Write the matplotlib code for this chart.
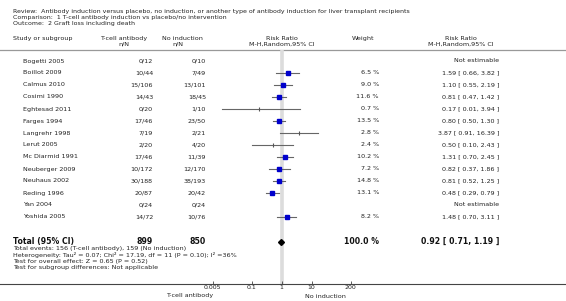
import matplotlib
matplotlib.use("Agg")
import matplotlib.pyplot as plt
import numpy as np

W, H = 566, 301
DPI = 100

title_lines = [
    "Review:  Antibody induction versus placebo, no induction, or another type of antibody induction for liver transplant recipients",
    "Comparison:  1 T-cell antibody induction vs placebo/no intervention",
    "Outcome:  2 Graft loss including death",
]
studies = ["Bogetti 2005", "Boillot 2009", "Calmus 2010", "Cosimi 1990", "Eghtesad 2011",
           "Farges 1994", "Langrehr 1998", "Lerut 2005", "Mc Diarmid 1991", "Neuberger 2009",
           "Neuhaus 2002", "Reding 1996", "Yan 2004", "Yoshida 2005"]
t_events = [0, 10, 15, 14, 0, 17, 7, 2, 17, 10, 30, 20, 0, 14]
t_total = [12, 44, 106, 43, 20, 46, 19, 20, 46, 172, 188, 87, 24, 72]
c_events = [0, 7, 13, 18, 1, 23, 2, 4, 11, 12, 38, 20, 0, 10]
c_total = [10, 49, 101, 45, 10, 50, 21, 20, 39, 170, 193, 42, 24, 76]
weights = [np.nan, 6.5, 9.0, 11.6, 0.7, 13.5, 2.8, 2.4, 10.2, 7.2, 14.8, 13.1, np.nan, 8.2]
rr = [np.nan, 1.59, 1.10, 0.81, 0.17, 0.80, 3.87, 0.50, 1.31, 0.82, 0.81, 0.48, np.nan, 1.48]
rr_lo = [np.nan, 0.66, 0.55, 0.47, 0.01, 0.50, 0.91, 0.10, 0.70, 0.37, 0.52, 0.29, np.nan, 0.70]
rr_hi = [np.nan, 3.82, 2.19, 1.42, 3.94, 1.30, 16.39, 2.43, 2.45, 1.86, 1.25, 0.79, np.nan, 3.11]

total_t, total_c = 899, 850
total_rr, total_lo, total_hi = 0.92, 0.71, 1.19
footnotes = [
    "Total events: 156 (T-cell antibody), 159 (No induction)",
    "Heterogeneity: Tau\u00b2 = 0.07; Chi\u00b2 = 17.19, df = 11 (P = 0.10); I\u00b2 =36%",
    "Test for overall effect: Z = 0.65 (P = 0.52)",
    "Test for subgroup differences: Not applicable",
]
xticks = [0.005, 0.1, 1, 10, 200]
xtick_labels = ["0.005", "0.1", "1", "10", "200"]
left_label = "T-cell antibody"
right_label = "No induction"

plt.rcParams['font.family'] = ['DejaVu Sans']
fig = plt.figure(figsize=(W / DPI, H / DPI), dpi=DPI)

# text layer in pixel coordinates
tx = fig.add_axes([0, 0, 1, 1])
tx.set_xlim(0, W)
tx.set_ylim(H, 0)
tx.axis("off")

# forest axes (log scale, 30 px per decade, RR=1 at x=281.7 px)
ax_top, ax_bot = 50.0, 283.7
x_one = 281.7
ppd = 30.0
fx = fig.add_axes([0, (H - ax_bot) / H, 1, (ax_bot - ax_top) / H], zorder=0)
fx.set_xscale("log")
fx.set_xlim(10 ** (-x_one / ppd), 10 ** ((W - x_one) / ppd))
fx.set_ylim(ax_bot, ax_top)
fx.patch.set_alpha(0)
for s in ["top", "left", "right"]:
    fx.spines[s].set_visible(False)
fx.spines["bottom"].set_color("#444444")
fx.spines["bottom"].set_linewidth(0.8)
fx.set_yticks([])
fx.set_xticks(xticks)
fx.set_xticklabels(xtick_labels)
fx.minorticks_off()
fx.tick_params(axis="x", direction="in", length=2.5, width=0.6, color="#444444",
               labelsize=4.5, pad=1.2, labelcolor="#222222")
fx.axvline(1, color="#dcdcdc", lw=2.6, zorder=0)

fs = 4.6
col = "#222222"
# title lines
for i, line in enumerate(title_lines):
    tx.text(13, 12 + 5.7 * i, line, fontsize=4.5, color=col, va="center", ha="left")

# header line
tx.plot([0, W], [49.5, 49.5], color="#999999", lw=0.9)
tx.text(13, 38.5, "Study or subgroup", fontsize=fs, color=col, va="center", ha="left")
tx.text(124, 38.5, "T-cell antibody", fontsize=fs, color=col, va="center", ha="center")
tx.text(124, 44, "n/N", fontsize=fs, color=col, va="center", ha="center")
tx.text(182, 38.5, "No induction", fontsize=fs, color=col, va="center", ha="center")
tx.text(178, 44, "n/N", fontsize=fs, color=col, va="center", ha="center")
tx.text(282, 38.5, "Risk Ratio", fontsize=fs, color=col, va="center", ha="center")
tx.text(282, 44, "M-H,Random,95% CI", fontsize=fs, color=col, va="center", ha="center")
tx.text(352, 38.5, "Weight", fontsize=fs, color=col, va="center", ha="left")
tx.text(461, 38.5, "Risk Ratio", fontsize=fs, color=col, va="center", ha="center")
tx.text(461, 44, "M-H,Random,95% CI", fontsize=fs, color=col, va="center", ha="center")

row0, dy = 61.0, 12.0
for i, name in enumerate(studies):
    y = row0 + dy * i
    tx.text(23, y, name, fontsize=fs, color=col, va="center", ha="left")
    tx.text(153, y, f"{t_events[i]}/{t_total[i]}", fontsize=fs, color=col, va="center", ha="right")
    tx.text(206, y, f"{c_events[i]}/{c_total[i]}", fontsize=fs, color=col, va="center", ha="right")
    if np.isnan(rr[i]):
        tx.text(499, y, "Not estimable", fontsize=fs, color=col, va="center", ha="right")
        continue
    tx.text(379, y, f"{weights[i]:.1f} %", fontsize=fs, color=col, va="center", ha="right")
    tx.text(499, y, f"{rr[i]:.2f} [ {rr_lo[i]:.2f}, {rr_hi[i]:.2f} ]", fontsize=fs, color=col,
            va="center", ha="right")
    fx.plot([rr_lo[i], rr_hi[i]], [y, y], color="#666666", lw=0.8, zorder=2)
    if weights[i] < 3:
        fx.plot([rr[i]], [y], marker="|", color="#555555", ms=2.2, mew=0.8, zorder=3)
    else:
        fx.plot([rr[i]], [y], marker="s", color="#0000cc", mec="#0000cc",
                ms=1.0 + 0.55 * np.sqrt(weights[i]), zorder=3)

# total row
yt = 241.5
tb = 5.6
tx.text(13, yt, "Total (95% CI)", fontsize=tb, fontweight="bold", color="#111111", va="center", ha="left")
tx.text(153, yt, f"{total_t}", fontsize=tb, fontweight="bold", color="#111111", va="center", ha="right")
tx.text(206, yt, f"{total_c}", fontsize=tb, fontweight="bold", color="#111111", va="center", ha="right")
tx.text(379, yt, "100.0 %", fontsize=tb, fontweight="bold", color="#111111", va="center", ha="right")
tx.text(499, yt, f"{total_rr:.2f} [ {total_lo:.2f}, {total_hi:.2f} ]", fontsize=tb,
        fontweight="bold", color="#111111", va="center", ha="right")
fx.plot([total_rr], [yt], marker="D", color="black", ms=3.0, zorder=3)

for i, line in enumerate(footnotes):
    tx.text(13, 248.5 + 6.3 * i, line, fontsize=4.6, color=col, va="center", ha="left")

tx.text(190, 296, left_label, fontsize=fs, color=col, va="center", ha="center")
tx.text(325, 296, right_label, fontsize=fs, color=col, va="center", ha="center")

fig.savefig("out.png", dpi=DPI)
